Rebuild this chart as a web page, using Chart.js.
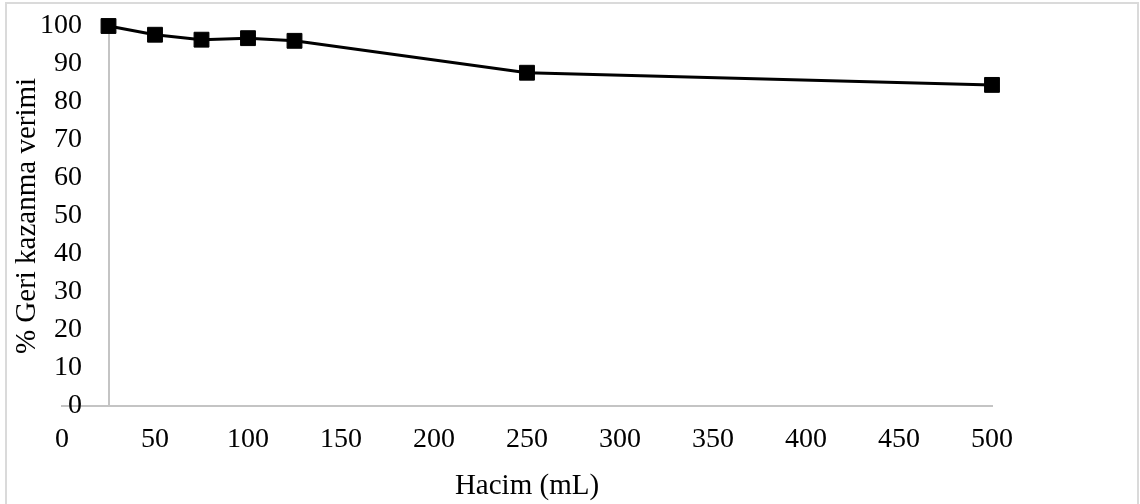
<!DOCTYPE html>
<html>
<head>
<meta charset="utf-8">
<title>Hacim - Geri kazanma verimi</title>
<script src="https://cdn.jsdelivr.net/npm/chart.js@4"></script>
<style>
  html, body { margin: 0; padding: 0; background: #fff; }
  #wrap { position: relative; width: 1140px; height: 504px; overflow: hidden; }
  #frame {
    position: absolute; left: 5px; top: 2px; width: 1134px; height: 520px;
    border: 2px solid #dadada; box-sizing: border-box; pointer-events: none;
  }
</style>
</head>
<body>
<div id="wrap">
  <canvas id="chart" width="1140" height="504"></canvas>
  <div id="frame"></div>
</div>
<script>
// volume (mL) and recovery (%)
const volumes = [25, 50, 75, 100, 125, 250, 500];
const recovery = [100, 97.7, 96.4, 96.8, 96.1, 87.7, 84.5];

const xTitle = "Hacim (mL)";
const yTitle = "% Geri kazanma verimi";

const serif = "'Liberation Serif', 'Times New Roman', serif";
const axisGrey = "#c4c4c4";

// y title drawn by hand so it sits at the far left of the frame
const yTitlePlugin = {
  id: "yTitle",
  afterDraw(chart) {
    const { ctx, chartArea } = chart;
    ctx.save();
    ctx.translate(27, (chartArea.top + chartArea.bottom) / 2);
    ctx.rotate(-Math.PI / 2);
    ctx.font = "29px " + serif;
    ctx.fillStyle = "#000";
    ctx.textAlign = "center";
    ctx.textBaseline = "middle";
    ctx.fillText(yTitle, 0, 0);
    ctx.restore();
  }
};

const ctx = document.getElementById("chart").getContext("2d");
new Chart(ctx, {
  type: "line",
  data: {
    datasets: [{
      data: volumes.map((v, i) => ({ x: v, y: recovery[i] })),
      xAxisID: "x",
      yAxisID: "y",
      borderColor: "#000",
      backgroundColor: "#000",
      borderWidth: 3,
      tension: 0,
      pointStyle: "rect",
      pointRadius: 10.5,
      pointHoverRadius: 10.5,
      pointBorderWidth: 1,
      pointBorderColor: "#000",
      pointBackgroundColor: "#000",
      clip: false
    }]
  },
  options: {
    responsive: false,
    animation: false,
    events: [],
    layout: { padding: { left: 22, right: 148, top: 26, bottom: 0 } },
    plugins: {
      legend: { display: false },
      tooltip: { enabled: false }
    },
    scales: {
      x: {
        type: "linear",
        position: "bottom",
        min: 0,
        max: 500,
        afterFit(scale) { scale.height = 98; },
        grid: { display: false, drawTicks: false },
        border: { display: true, color: axisGrey, width: 2 },
        ticks: {
          stepSize: 50,
          padding: 17,
          color: "#000",
          font: { family: serif, size: 28 }
        },
        title: {
          display: true,
          text: xTitle,
          color: "#000",
          padding: { top: 0, bottom: 0 },
          font: { family: serif, size: 29 }
        }
      },
      // value axis: the line crosses the x axis at 25 mL
      y: {
        position: { x: 25 },
        min: 0,
        max: 100,
        grid: { display: false },
        border: { display: true, color: axisGrey, width: 2 },
        ticks: { display: false, stepSize: 10 }
      },
      // labels for the value axis; mirrored so they may spill right of the
      // plot edge, right-aligned just before the axis line
      yLabels: {
        type: "linear",
        position: "left",
        min: 0,
        max: 100,
        afterFit(scale) { scale.width = 40; },
        grid: { display: false, drawTicks: false },
        border: { display: false },
        ticks: {
          stepSize: 10,
          mirror: true,
          crossAlign: "far",
          padding: -22,
          color: "#000",
          font: { family: serif, size: 28 }
        }
      }
    }
  },
  plugins: [yTitlePlugin]
});
</script>
</body>
</html>
